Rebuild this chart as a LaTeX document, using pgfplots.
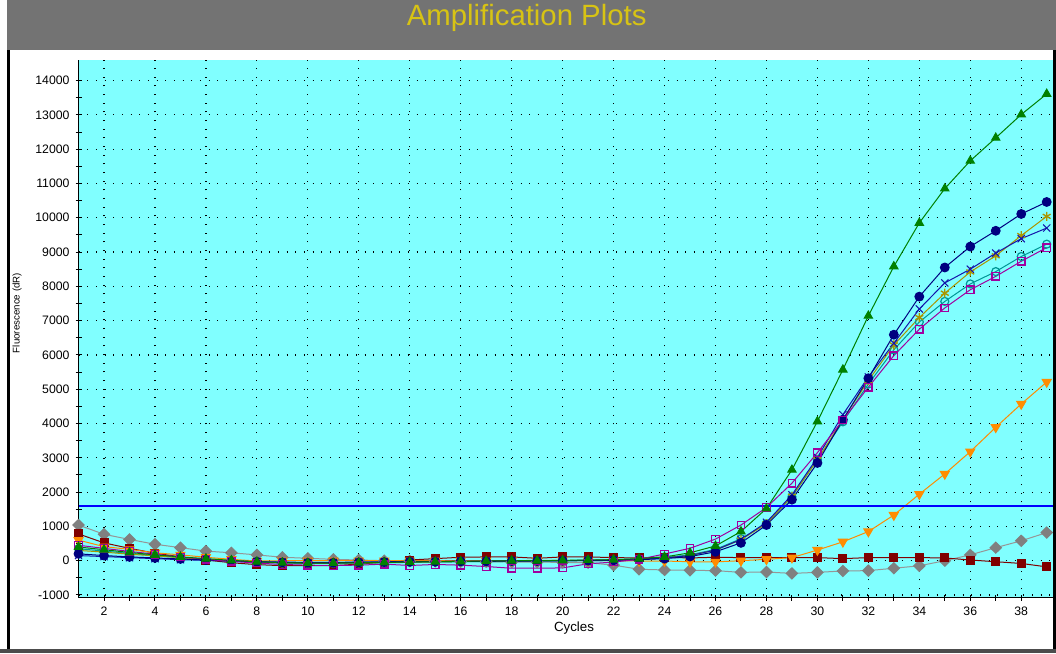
\documentclass[border=0pt]{standalone}
\usepackage{fontspec}
\setmainfont{Liberation Sans}
\usepackage{pgfplots}
\usepackage{pgfplotstable}
\pgfplotsset{compat=1.18}
\definecolor{bgcyan}{RGB}{128,255,255}
\definecolor{titlegray}{RGB}{115,115,115}
\definecolor{titlegold}{RGB}{215,195,20}
\definecolor{cgreen}{RGB}{0,128,0}
\definecolor{cnavy}{RGB}{0,0,128}
\definecolor{colive}{RGB}{170,150,0}
\definecolor{cbluex}{RGB}{20,20,170}
\definecolor{cteal}{RGB}{0,150,150}
\definecolor{cpurple}{RGB}{160,0,160}
\definecolor{corange}{RGB}{255,140,0}
\definecolor{cmaroon}{RGB}{128,0,0}
\definecolor{cgray}{RGB}{128,128,128}
\definecolor{cgrayline}{RGB}{150,150,150}

\pgfplotstableread{
c green navy olive bluex teal purple orange maroon gray
1 400 200 300 150 350 450 600 780 1040
2 320 150 250 120 280 360 410 520 770
3 240 110 190 90 210 270 330 360 620
4 170 80 140 60 150 190 230 220 480
5 110 50 90 30 90 110 170 110 380
6 60 20 40 10 40 40 100 20 280
7 10 -10 0 -10 0 -20 40 -60 230
8 -30 -30 -30 -30 -40 -70 -10 -115 170
9 -60 -50 -60 -40 -70 -110 0 -145 100
10 -70 -60 -70 -50 -80 -130 0 -145 70
11 -70 -60 -70 -50 -80 -140 0 -145 40
12 -60 -50 -60 -40 -70 -130 0 -100 20
13 -50 -40 -50 -30 -60 -100 0 -40 0
14 -40 -30 -40 -20 -50 -140 0 20 -10
15 -30 -30 -30 -20 -40 -110 0 60 -20
16 -20 -20 -20 -10 -30 -130 0 100 -30
17 -10 -20 -20 -10 -30 -170 0 110 -30
18 0 -10 -10 0 -20 -220 0 110 -40
19 0 -10 0 0 -10 -220 10 70 -40
20 10 0 0 0 0 -210 10 110 -50
21 20 0 10 10 10 -90 0 110 -60
22 30 10 20 20 20 -40 0 90 -130
23 60 30 40 40 50 40 -10 80 -250
24 110 60 80 80 90 195 -10 100 -270
25 230 120 150 150 170 362 -30 80 -280
26 430 260 310 310 330 630 -35 100 -290
27 850 520 610 620 640 1040 0 90 -340
28 1520 1040 1080 1120 1080 1550 40 90 -330
29 2650 1780 1880 1920 1860 2260 90 90 -370
30 4060 2850 2940 3010 2950 3150 310 90 -340
31 5570 4110 4120 4260 4050 4100 550 60 -300
32 7140 5320 5250 5360 5150 5060 850 90 -290
33 8580 6590 6290 6340 6150 5980 1330 90 -220
34 9850 7700 7090 7340 6960 6750 1940 90 -150
35 10850 8550 7800 8100 7560 7370 2530 80 0
36 11660 9160 8420 8500 8070 7900 3180 20 170
37 12330 9620 8890 8970 8430 8290 3890 -30 380
38 13010 10110 9480 9390 8870 8730 4570 -80 580
39 13610 10460 10040 9700 9230 9130 5210 -180 820
}\amp

\begin{document}
\begin{tikzpicture}[x=1pt,y=1pt]
\useasboundingbox (0,0) rectangle (792,489.75);
\fill[white] (0,0) rectangle (792,489.75);
\fill[titlegray] (5.5,452.5) rectangle (792,489.75);
\node[text=titlegold, font=\fontsize{22}{24}\selectfont] at (395,476.5) {Amplification Plots};
\begin{axis}[
  at={(58.9pt,41.45pt)}, anchor=south west,
  scale only axis, width=730.9pt, height=403.3pt,
  xmin=1, xmax=39.25, ymin=-1080, ymax=14600,
  axis background/.style={fill=bgcyan},
  axis lines*=left,
  axis line style={-, line width=1.1pt, black},
  xtick={2,4,...,38}, ytick={-1000,0,...,14000},
  scaled y ticks=false, scaled x ticks=false,
  minor x tick num=1, minor y tick num=1,
  tick align=center,
  major tick length=4.5pt, minor tick length=4.5pt,
  tick style={black, line width=0.75pt},
  grid=major,
  major grid style={black, line width=0.9pt, dash pattern=on 0.9pt off 5.6pt},
  /pgf/number format/assume math mode=true,
  /pgf/number format/set thousands separator={},
  ticklabel style={font=\fontsize{9.2}{10}\selectfont, text=black},
  yticklabel style={xshift=-1pt},
  xticklabel style={yshift=-1pt},
  every axis plot/.append style={line width=0.75pt},
]
\addplot[cgrayline, mark=diamond*, mark size=4.2pt, mark options={fill=cgray, draw=cgray, xscale=1.35}] table[x=c, y=gray] {\amp};
\addplot[cmaroon, mark=square*, mark size=3pt, mark options={fill=cmaroon}] table[x=c, y=maroon] {\amp};
\addplot[corange, mark=triangle*, mark size=3.9pt, mark options={fill=corange, rotate=180}] table[x=c, y=orange] {\amp};
\addplot[cteal, mark=o, mark size=3pt, mark options={line width=0.9pt}] table[x=c, y=teal] {\amp};
\addplot[colive, mark=asterisk, mark size=3.4pt, mark options={line width=1pt}] table[x=c, y=olive] {\amp};
\addplot[cbluex, mark=x, mark size=3.8pt] table[x=c, y=bluex] {\amp};
\addplot[cnavy, mark=*, mark size=3.3pt, mark options={fill=cnavy}] table[x=c, y=navy] {\amp};
\addplot[cpurple, mark=square, mark size=2.8pt, mark options={line width=1pt}] table[x=c, y=purple] {\amp};
\addplot[cgreen, mark=triangle*, mark size=3.6pt, mark options={fill=cgreen}] table[x=c, y=green] {\amp};
\addplot[blue, line width=1.5pt, no marks] coordinates {(1,1600) (39.25,1600)};
\end{axis}
\node[font=\fontsize{7.3}{8}\selectfont, rotate=90] at (12.75,255) {Fluorescence (dR)};
\node[font=\fontsize{10}{11}\selectfont] at (430.5,18.75) {Cycles};
\fill[black] (5.5,3) rectangle (7.3,452.5);
\fill[black] (789.8,3) rectangle (792,452.5);
\fill[black!70] (0,0) rectangle (792,3);
\end{tikzpicture}
\end{document}
